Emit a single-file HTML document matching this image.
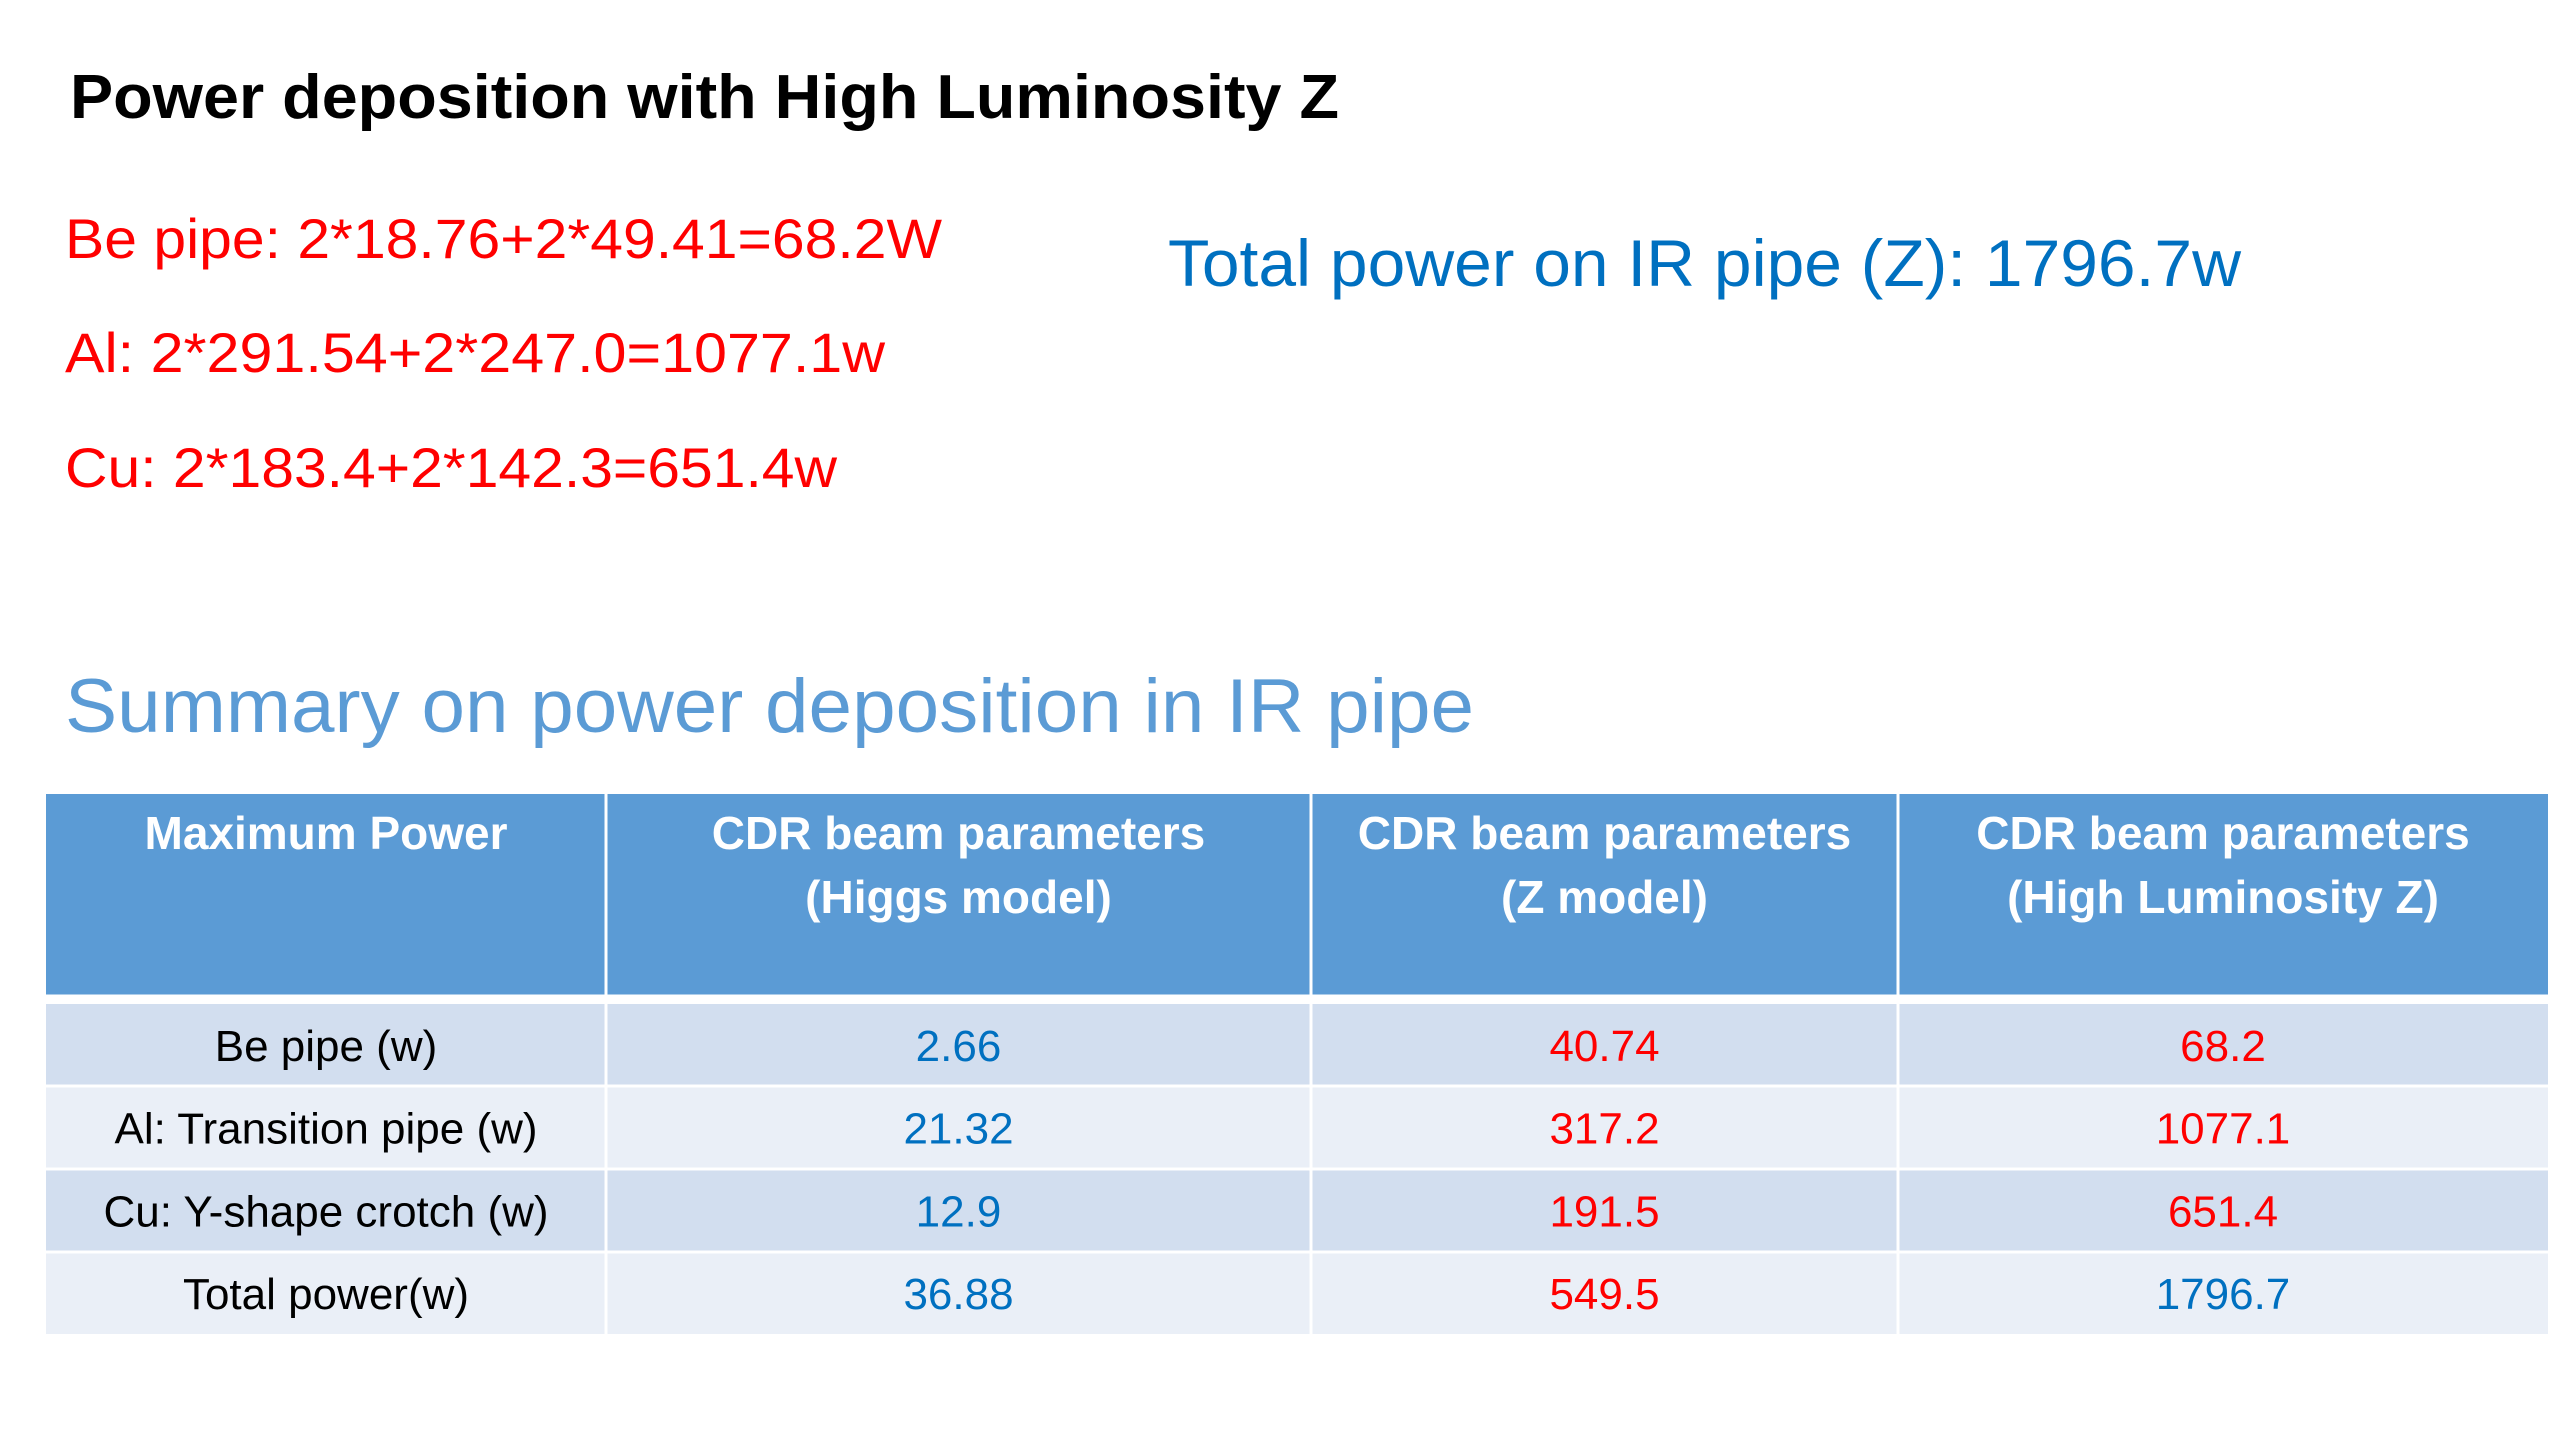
<!DOCTYPE html>
<html><head><meta charset="utf-8"><style>
html,body{margin:0;padding:0;background:#fff;width:2560px;height:1440px;overflow:hidden}
svg{display:block;font-family:"Liberation Sans",sans-serif}
</style></head><body>
<svg id="s" width="2560" height="1440" viewBox="0 0 2560 1440">
<text x="70" y="118" font-size="62" font-weight="bold" fill="#000" textLength="1269" lengthAdjust="spacingAndGlyphs">Power deposition with High Luminosity Z</text>
<text x="65" y="258" font-size="56" fill="#FF0000" textLength="877" lengthAdjust="spacingAndGlyphs">Be pipe: 2*18.76+2*49.41=68.2W</text>
<text x="65" y="372" font-size="56" fill="#FF0000" textLength="820" lengthAdjust="spacingAndGlyphs">Al: 2*291.54+2*247.0=1077.1w</text>
<text x="65" y="487" font-size="56" fill="#FF0000" textLength="772" lengthAdjust="spacingAndGlyphs">Cu: 2*183.4+2*142.3=651.4w</text>
<text x="1168" y="286" font-size="66" fill="#0070C0" textLength="1073" lengthAdjust="spacingAndGlyphs">Total power on IR pipe (Z): 1796.7w</text>
<text x="65" y="732" font-size="76" fill="#5B9BD5" textLength="1409" lengthAdjust="spacingAndGlyphs">Summary on power deposition in IR pipe</text>
<g id="tbl"></g>
</svg>
<script>
const rowLabels = ["Be pipe (w)", "Al: Transition pipe (w)", "Cu: Y-shape crotch (w)", "Total power(w)"];
const higgsValues = ["2.66", "21.32", "12.9", "36.88"];
const zValues = ["40.74", "317.2", "191.5", "549.5"];
const hlzValues = ["68.2", "1077.1", "651.4", "1796.7"];
const headerLine1 = ["Maximum Power", "CDR  beam parameters", "CDR  beam parameters", "CDR  beam parameters"];
const headerLine2 = ["", "(Higgs model)", "(Z model)", "(High Luminosity Z)"];
const NS = "http://www.w3.org/2000/svg";
const g = document.getElementById('tbl');
const colX = [46, 606, 1311, 1898, 2548];
const rowY = [1004, 1086, 1169, 1252, 1334];
function mk(tag, attrs, parent){const e=document.createElementNS(NS,tag);for(const k in attrs)e.setAttribute(k,attrs[k]);parent.appendChild(e);return e;}
const hdr = mk('rect',{x:46,y:794,width:2502,height:202,fill:'#5B9BD5'},g);


for(let r=0;r<4;r++){
  const bg = mk('rect',{x:46,y:rowY[r],width:2502,height:rowY[r+1]-rowY[r],fill:r%2==0?'#D2DEEF':'#EAEFF7'},g);
  
  
}
for(let r=1;r<4;r++){mk('line',{x1:46,x2:2548,y1:rowY[r],y2:rowY[r],stroke:'#fff','stroke-width':3},g);}
for(let c=1;c<4;c++){mk('line',{x1:colX[c],x2:colX[c],y1:794,y2:1334,stroke:'#fff','stroke-width':3},g);}
mk('line',{x1:46,x2:2548,y1:998,y2:998,stroke:'#fff','stroke-width':7},g);
for(let c=0;c<4;c++){
  const cx=(colX[c]+colX[c+1])/2;
  const t1=mk('text',{x:cx,y:849,'font-size':46,'font-weight':'bold',fill:'#fff','text-anchor':'middle'},g);
  t1.textContent=headerLine1[c];
  
  
  if(headerLine2[c]){
    const t2=mk('text',{x:cx,y:913,'font-size':46,'font-weight':'bold',fill:'#fff','text-anchor':'middle'},g);
    t2.textContent=headerLine2[c];
    
    
  }
}
const cols=[higgsValues,zValues,hlzValues];
for(let r=0;r<4;r++){
  const by=(rowY[r]+rowY[r+1])/2+16;
  const lab=mk('text',{x:(colX[0]+colX[1])/2,y:by,'font-size':44,fill:'#000','text-anchor':'middle'},g);
  lab.textContent=rowLabels[r];
  
  
  for(let c=0;c<3;c++){
    const blue = c==0 || (c==2 && r==3);
    const t=mk('text',{x:(colX[c+1]+colX[c+2])/2,y:by,'font-size':44,fill:blue?'#0070C0':'#FF0000','text-anchor':'middle'},g);
    t.textContent=cols[c][r];
    
    
  }
}
</script>
</body></html>
